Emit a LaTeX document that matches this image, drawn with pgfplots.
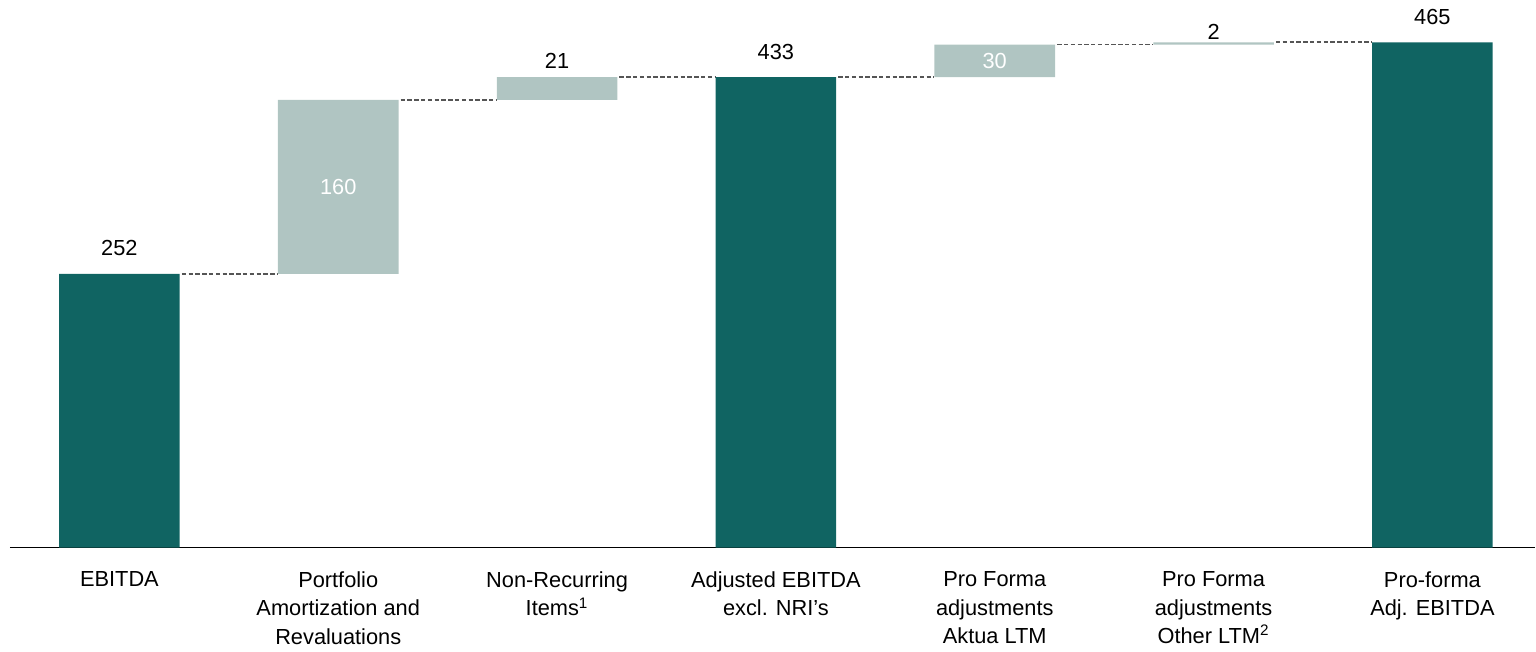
\documentclass[border=0pt]{standalone}
\usepackage{pgfplots}
\pgfplotsset{compat=1.18}
\usepackage{pgfplotstable}
\usepackage{fontspec}
\setmainfont{Liberation Sans}

\definecolor{totalteal}{HTML}{106462}
\definecolor{stepgrey}{HTML}{B0C5C2}
\definecolor{linkgrey}{HTML}{555555}

% Waterfall: invisible base + total bars + increments
% tlab: total labels, slab/qlab: step labels above the bar, ilab: step labels inside
\pgfplotstableread{
x base total inc tlab slab qlab ilab
0 0   252   0   252 {}  {}  {}
1 252 0     160 {}  {}  {}  160
2 412 0     21  {}  21  {}  {}
3 0   433   0   433 {}  {}  {}
4 433 0     30  {}  {}  {}  30
5 463 0     2   {}  {}  2   {}
6 0   465   0   465 {}  {}  {}
}\waterfall

% Dashed connectors between consecutive bar tops
\pgfplotstableread{
x y
0.285 252
0.72  252
nan   nan
1.285 412
1.72  412
nan   nan
2.285 433
2.72  433
nan   nan
3.285 433
3.72  433
nan   nan
4.285 463
4.72  463
nan   nan
5.285 465
5.72  465
}\connectors

\newcommand\chartfont{\fontsize{10.9}{14.25}\selectfont}

\pgfplotsset{
  wfbase/.style={
    at={(5pt,52pt)}, anchor=south west,
    scale only axis, width=763pt, height=274pt,
    xmin=-0.5, xmax=6.47, ymin=0, ymax=504,
    clip=false,
    axis y line=none,
    font=\chartfont,
  },
  vlabel/.style={draw=none, mark=none,
    point meta=explicit symbolic, nodes near coords,
    every node near coord/.append style={anchor=base, yshift=#1,
      inner sep=0pt, text=black, font=\chartfont}},
}

\begin{document}
\begin{tikzpicture}
\pgfresetboundingbox
\path (0,0) rectangle (768pt,326pt);

% connectors (behind the bars)
\begin{axis}[wfbase, hide axis]
  \addplot[linkgrey, line width=0.9pt, dash pattern=on 2.2pt off 1.2pt,
           unbounded coords=jump, mark=none] table[x=x, y=y] {\connectors};
\end{axis}

% bars
\begin{axis}[wfbase,
    ybar stacked, bar width=0.551,
    axis x line=bottom,
    x axis line style={-, line width=0.75pt, black},
    xtick={0,...,6},
    major tick length=0pt,
    xticklabels={
      EBITDA,
      {Portfolio\\Amortization and\\Revaluations},
      {Non-Recurring\\Items\textsuperscript{1}},
      {Adjusted EBITDA\\excl. NRI’s},
      {Pro Forma\\adjustments\\Aktua LTM},
      {Pro Forma\\adjustments\\Other LTM\textsuperscript{2}},
      {Pro-forma\\Adj. EBITDA}},
    xticklabel style={anchor=north, align=center, inner sep=0pt, yshift=-11.8pt,
      font=\chartfont},
  ]
  \addplot[draw=none, fill=none] table[x=x, y=base] {\waterfall};
  \addplot[draw=none, fill=totalteal] table[x=x, y=total] {\waterfall};
  \addplot[draw=none, fill=stepgrey] table[x=x, y=inc] {\waterfall};
\end{axis}

% value labels
\begin{axis}[wfbase, hide axis]
  \addplot[vlabel=9pt]
    table[x=x, y expr=\thisrow{base}+\thisrow{total}+\thisrow{inc}, meta=tlab] {\waterfall};
  \addplot[vlabel=4.5pt]
    table[x=x, y expr=\thisrow{base}+\thisrow{total}+\thisrow{inc}, meta=slab] {\waterfall};
  \addplot[vlabel=1.5pt]
    table[x=x, y expr=\thisrow{base}+\thisrow{total}+\thisrow{inc}, meta=qlab] {\waterfall};
  \addplot[draw=none, mark=none,
    point meta=explicit symbolic, nodes near coords,
    every node near coord/.append style={anchor=center,
      inner sep=0pt, text=white, font=\chartfont},
  ] table[x=x, y expr=\thisrow{base}+0.5*\thisrow{inc}, meta=ilab] {\waterfall};
\end{axis}
\end{tikzpicture}
\end{document}
